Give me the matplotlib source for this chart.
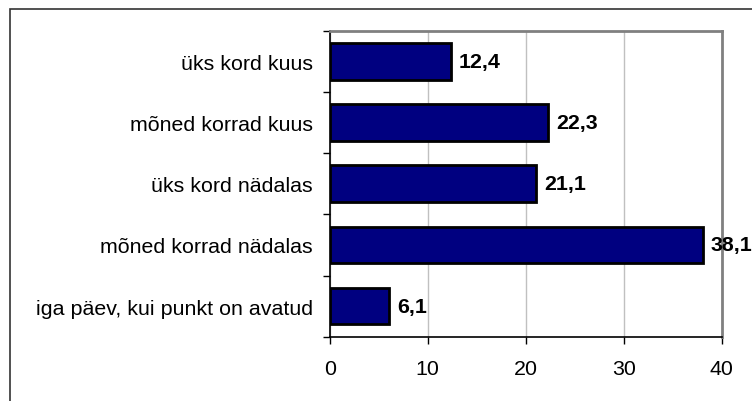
import matplotlib
matplotlib.use("Agg")
import matplotlib.pyplot as plt
from matplotlib.patches import Rectangle

categories = ["iga päev, kui punkt on avatud", "mõned korrad nädalas",
              "üks kord nädalas", "mõned korrad kuus", "üks kord kuus"]
values = [6.1, 38.1, 21.1, 22.3, 12.4]
value_labels = ["6,1", "38,1", "21,1", "22,3", "12,4"]
xticks = [0, 10, 20, 30, 40]

plt.rcParams['font.family'] = ['Liberation Sans', 'DejaVu Sans']

W, H = 752, 402
FS = 15.4
fig = plt.figure(figsize=(W/100, H/100), dpi=100)
L, R, T, B = 329.7, 721.7, 31.7, 337.7
ax = fig.add_axes([L/W, 1 - B/H, (R-L)/W, (B-T)/H])

# outer border
fig.patches.append(Rectangle((10/W, -0.1), 1.2, 1 - 10/H + 0.1, transform=fig.transFigure,
                             fill=False, edgecolor='#333333', linewidth=1.2))

ypos = list(range(len(categories)))
ax.barh(ypos, values, height=0.6, color='#000080', edgecolor='black', linewidth=2, zorder=3)
for y, v, lab in zip(ypos, values, value_labels):
    ax.annotate(lab, (v, y), xytext=(5.5, 0), textcoords='offset points',
                va='center', ha='left', fontsize=FS, fontweight='bold', zorder=5,
                annotation_clip=False)

ax.set_xlim(0, 40)
ax.set_ylim(-0.5, len(categories) - 0.5)
ax.set_xticks(xticks)
ax.set_xticklabels([str(t) for t in xticks], fontsize=FS)
ax.set_yticks(ypos)
ax.set_yticklabels(categories, fontsize=FS)
ax.tick_params(axis='y', length=0, pad=17*0.72)
ax.set_yticks([y + 0.5 for y in range(-1, len(categories))], minor=True)
ax.tick_params(axis='y', which='minor', length=5, width=1, color='black', direction='out')
ax.tick_params(axis='x', length=5, width=1, color='black', direction='out', pad=11)
ax.grid(axis='x', color='#c0c0c0', linewidth=1, zorder=0)

for s in ['top', 'right']:
    ax.spines[s].set_color('#808080')
    ax.spines[s].set_linewidth(2)
for s in ['left', 'bottom']:
    ax.spines[s].set_color('black')
    ax.spines[s].set_linewidth(1.2)

fig.savefig("out.png", dpi=100)
